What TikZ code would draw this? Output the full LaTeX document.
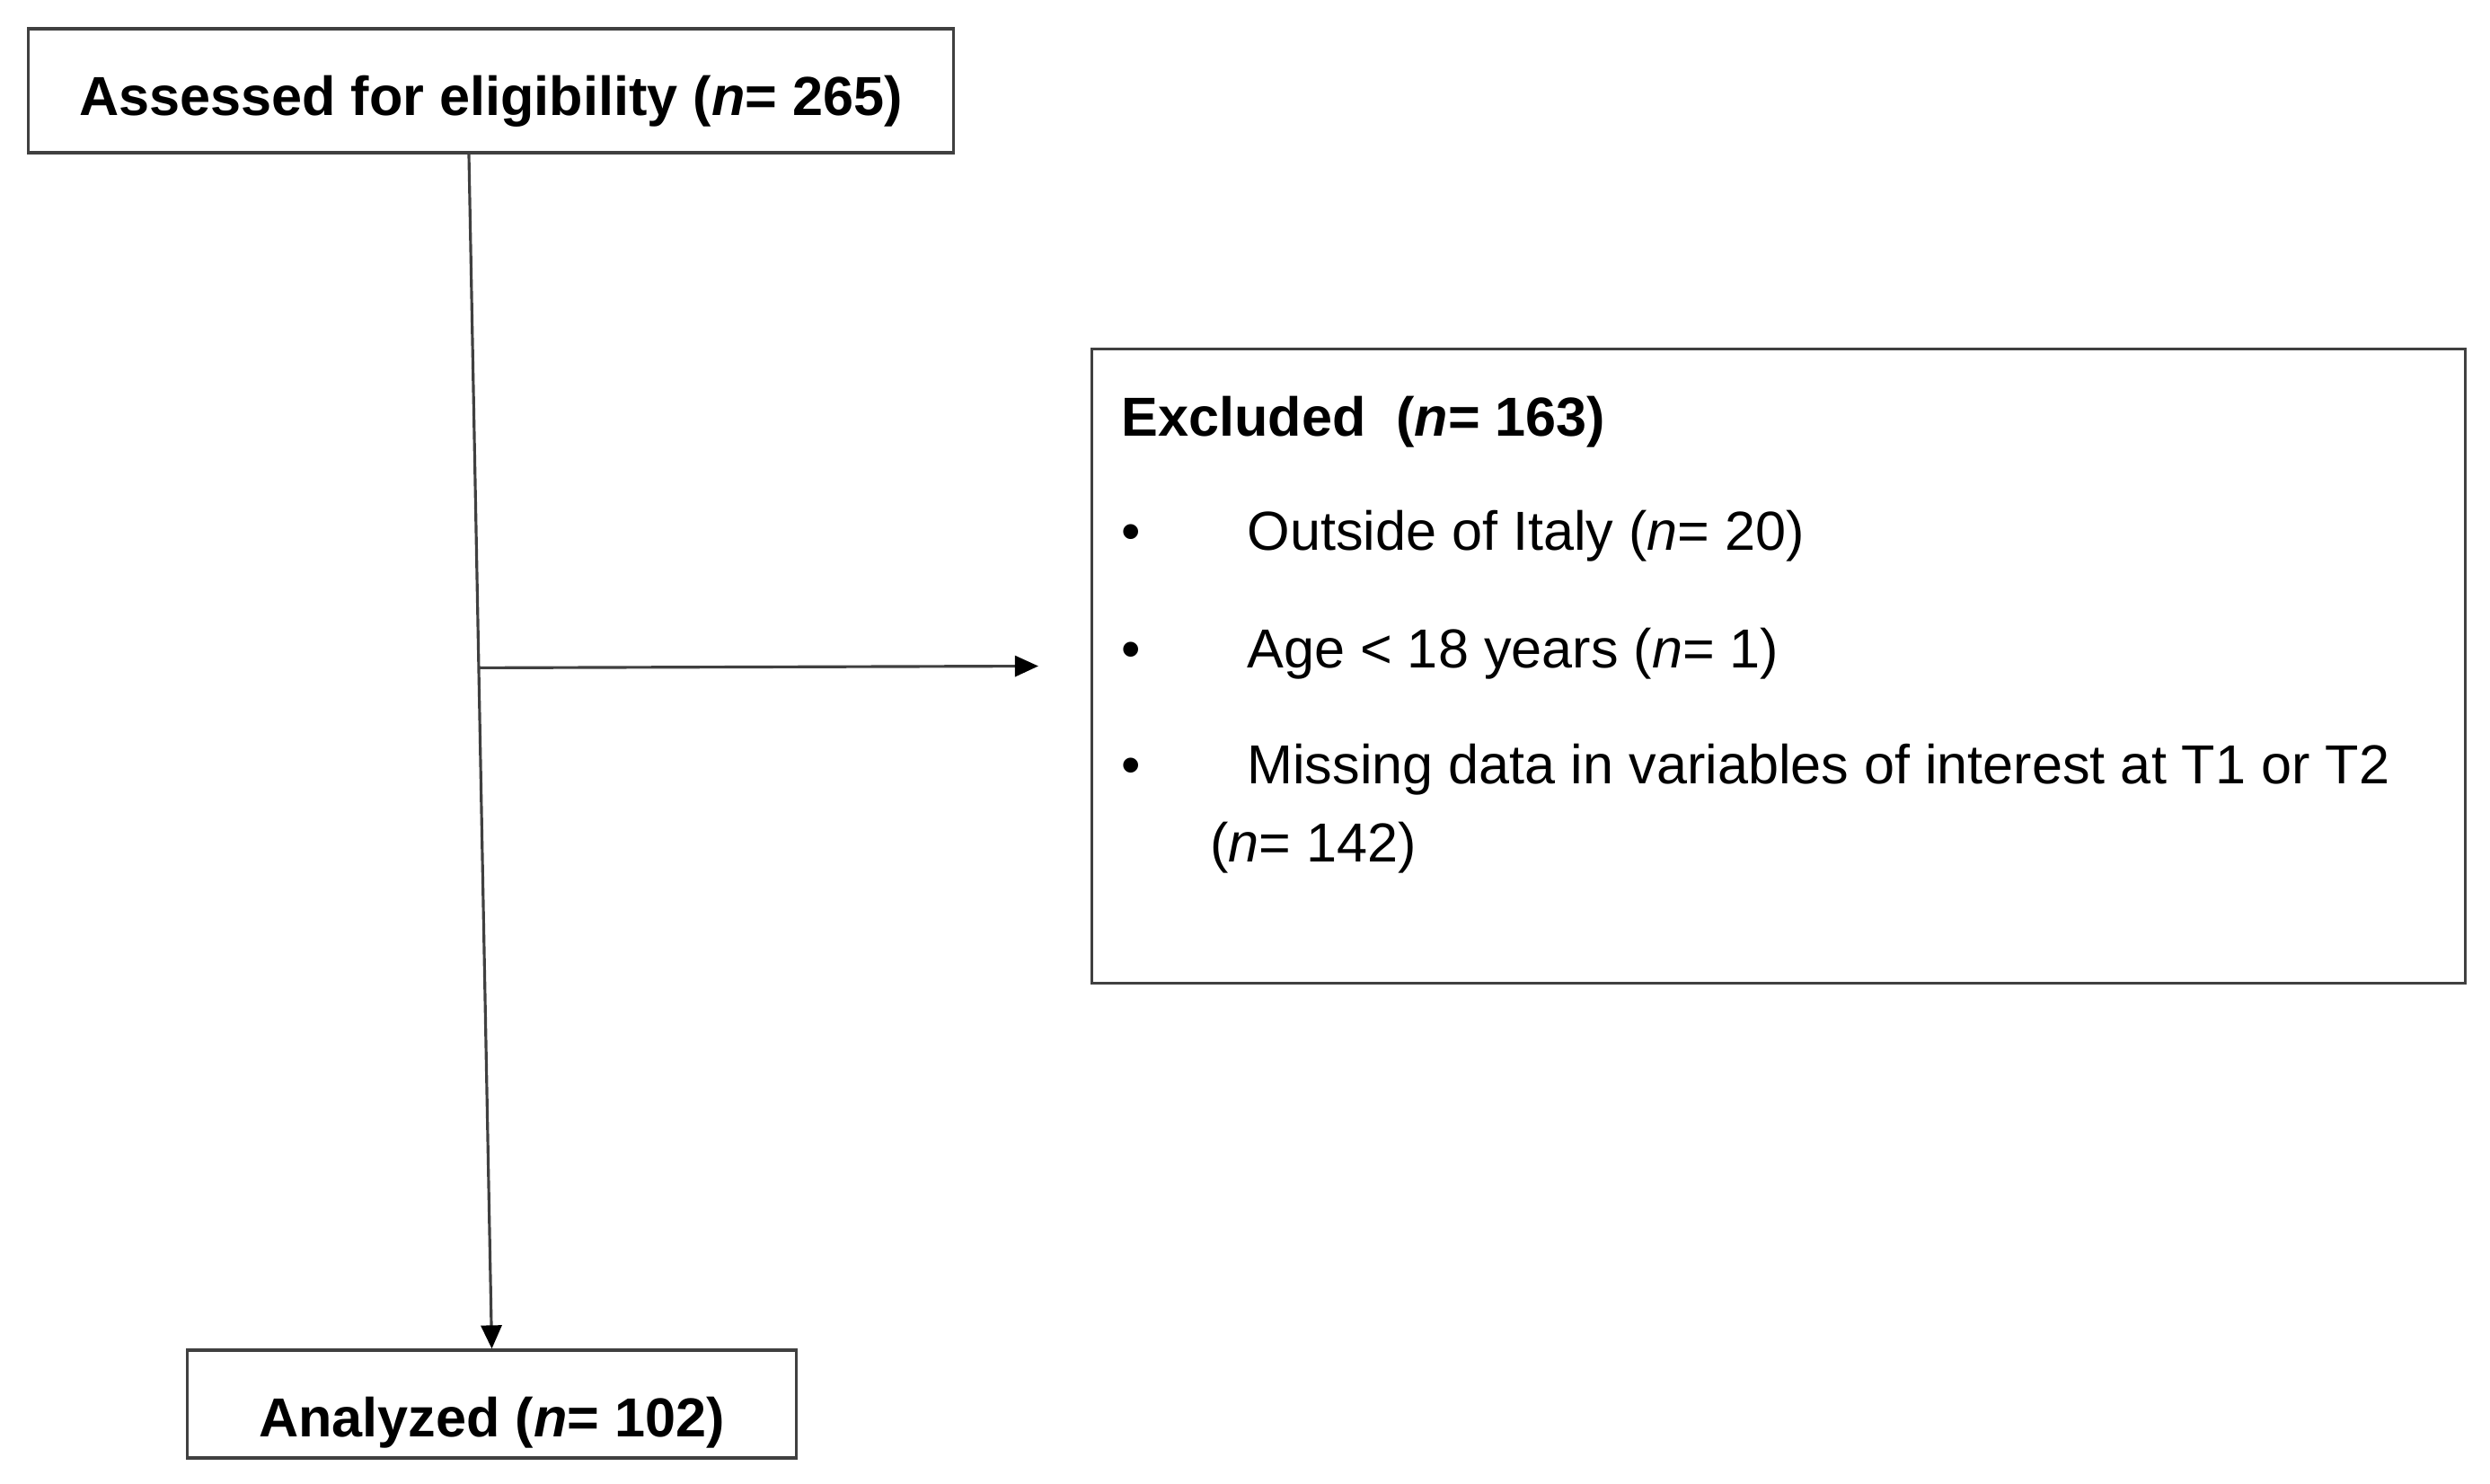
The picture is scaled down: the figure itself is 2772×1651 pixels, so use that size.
\documentclass[tikz,border=0pt]{standalone}
\usepackage{fontspec}
\setmainfont{Liberation Sans}
\usetikzlibrary{arrows.meta}
\usetikzlibrary{calc}

\begin{document}
\begin{tikzpicture}[x=0.01cm, y=-0.01cm, font=\fontsize{17.4}{21}\selectfont,
    box/.style={draw=black!75, line width=0.9pt, inner sep=0pt, fill=white},
    flow/.style={draw=black!75, line width=0.9pt, -{Triangle[length=0.26cm, width=0.23cm, black]}}]
    \useasboundingbox (0,0) rectangle (2772,1651);
    \node[box, minimum width=10.29cm, minimum height=1.38cm, text height=0.64cm, text depth=0.1cm] (assess) at (546.5,101) {\bfseries Assessed for eligibility (\textit{n}= 265)};
    \node[box, minimum width=6.77cm, minimum height=1.2cm, text height=0.82cm, text depth=0.1cm] (anal) at (547.5,1563) {\bfseries Analyzed (\textit{n}= 102)};
    \node[box, minimum width=15.28cm, minimum height=7.05cm] (excl) at (1980,741.5) {};
      \node[anchor=base west] (exclT) at (1236,485) {\bfseries Excluded\ \ (\textit{n}= 163)};
      \node[anchor=base west] (b1) at (1236,612) {\textbullet};
      \node[anchor=base west] (r1) at (1376,612) {Outside of Italy (\textit{n}= 20)};
      \node[anchor=base west] (b2) at (1236,743) {\textbullet};
      \node[anchor=base west] (r2) at (1376,743) {Age < 18 years (\textit{n}= 1)};
      \node[anchor=base west] (b3) at (1236,872) {\textbullet};
      \node[anchor=base west] (r3) at (1376,872) {Missing data in variables of interest at T1 or T2};
      \node[anchor=base west] (r3b) at (1335,959) {(\textit{n}= 142)};
    % main flow and branch
    \coordinate (top) at ([xshift=-0.245cm]assess.south);
    \coordinate (split) at ($(top)!0.43!(anal.north)$);
    \coordinate (tip) at ([xshift=-0.58cm]excl.west);
    \draw[flow] (top) -- (anal.north);
    \draw[flow] (split) -- (tip);
\end{tikzpicture}
\end{document}
